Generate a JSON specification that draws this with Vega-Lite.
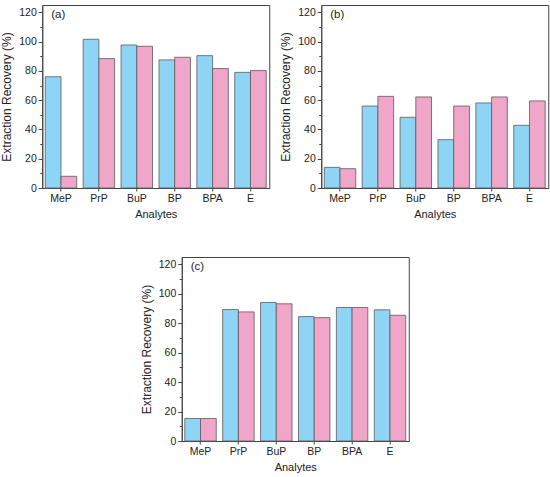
{
  "$schema": "https://vega.github.io/schema/vega-lite/v6.json",
  "description": "Extraction recovery of six analytes, three conditions (a), (b), (c)",
  "padding": {"left": 0, "top": 4, "right": 2, "bottom": 2},
  "data": {
    "values": [
      {"panel": "a", "analyte": "MeP", "series": "1", "value": 76},
      {"panel": "a", "analyte": "MeP", "series": "2", "value": 8},
      {"panel": "a", "analyte": "PrP", "series": "1", "value": 101.6},
      {"panel": "a", "analyte": "PrP", "series": "2", "value": 88.4},
      {"panel": "a", "analyte": "BuP", "series": "1", "value": 97.7},
      {"panel": "a", "analyte": "BuP", "series": "2", "value": 96.8},
      {"panel": "a", "analyte": "BP", "series": "1", "value": 87.5},
      {"panel": "a", "analyte": "BP", "series": "2", "value": 89.3},
      {"panel": "a", "analyte": "BPA", "series": "1", "value": 90.4},
      {"panel": "a", "analyte": "BPA", "series": "2", "value": 81.6},
      {"panel": "a", "analyte": "E", "series": "1", "value": 79},
      {"panel": "a", "analyte": "E", "series": "2", "value": 80.2},
      {"panel": "b", "analyte": "MeP", "series": "1", "value": 14.1},
      {"panel": "b", "analyte": "MeP", "series": "2", "value": 13.2},
      {"panel": "b", "analyte": "PrP", "series": "1", "value": 56},
      {"panel": "b", "analyte": "PrP", "series": "2", "value": 62.6},
      {"panel": "b", "analyte": "BuP", "series": "1", "value": 48.3},
      {"panel": "b", "analyte": "BuP", "series": "2", "value": 62.2},
      {"panel": "b", "analyte": "BP", "series": "1", "value": 33},
      {"panel": "b", "analyte": "BP", "series": "2", "value": 56},
      {"panel": "b", "analyte": "BPA", "series": "1", "value": 58.1},
      {"panel": "b", "analyte": "BPA", "series": "2", "value": 62.2},
      {"panel": "b", "analyte": "E", "series": "1", "value": 42.8},
      {"panel": "b", "analyte": "E", "series": "2", "value": 59.5},
      {"panel": "c", "analyte": "MeP", "series": "1", "value": 15.3},
      {"panel": "c", "analyte": "MeP", "series": "2", "value": 15.3},
      {"panel": "c", "analyte": "PrP", "series": "1", "value": 89.3},
      {"panel": "c", "analyte": "PrP", "series": "2", "value": 87.7},
      {"panel": "c", "analyte": "BuP", "series": "1", "value": 94.1},
      {"panel": "c", "analyte": "BuP", "series": "2", "value": 93.2},
      {"panel": "c", "analyte": "BP", "series": "1", "value": 84.5},
      {"panel": "c", "analyte": "BP", "series": "2", "value": 83.8},
      {"panel": "c", "analyte": "BPA", "series": "1", "value": 90.7},
      {"panel": "c", "analyte": "BPA", "series": "2", "value": 90.7},
      {"panel": "c", "analyte": "E", "series": "1", "value": 89.1},
      {"panel": "c", "analyte": "E", "series": "2", "value": 85.4}
    ]
  },
  "spacing": 36,
  "center": true,
  "vconcat": [
    {
      "spacing": 8,
      "hconcat": [
        {
          "width": 227,
          "height": 183,
          "title": {"text": "(a)", "anchor": "start", "frame": "group", "orient": "top", "offset": -15, "dx": 9},
          "transform": [{"filter": "datum.panel === 'a'"}],
          "encoding": {
            "x": {"field": "analyte", "type": "nominal", "sort": ["MeP", "PrP", "BuP", "BP", "BPA", "E"],
                  "scale": {"paddingInner": 0.17, "paddingOuter": 0.08},
                  "axis": {"title": "Analytes", "labelAngle": 0, "tickSize": 3, "labelPadding": 2, "titlePadding": 5, "titleFontSize": 11}},
            "xOffset": {"field": "series", "type": "nominal"},
            "color": {"field": "series", "type": "nominal", "scale": {"domain": ["1", "2"], "range": ["#8ed4f5", "#f0a6c8"]}, "legend": null}
          },
          "layer": [
            {
              "mark": {"type": "bar", "stroke": "#5a5a5a", "strokeWidth": 0.8},
              "encoding": {
                "y": {"field": "value", "type": "quantitative", "scale": {"domain": [0, 125], "nice": false},
                      "axis": {"title": "Extraction Recovery (%)", "values": [0, 20, 40, 60, 80, 100, 120], "tickSize": 4, "labelPadding": 2, "titlePadding": 5, "titleFontSize": 12}}
              }
            },
            {
              "mark": {"type": "bar", "opacity": 0},
              "encoding": {
                "y": {"field": "value", "type": "quantitative",
                      "axis": {"orient": "left", "title": null, "labels": false, "domain": false, "values": [10, 30, 50, 70, 90, 110], "tickSize": 2.5}}
              }
            }
          ],
          "resolve": {"axis": {"y": "independent"}}
        },
        {
          "width": 227,
          "height": 183,
          "title": {"text": "(b)", "anchor": "start", "frame": "group", "orient": "top", "offset": -15, "dx": 9},
          "transform": [{"filter": "datum.panel === 'b'"}],
          "encoding": {
            "x": {"field": "analyte", "type": "nominal", "sort": ["MeP", "PrP", "BuP", "BP", "BPA", "E"],
                  "scale": {"paddingInner": 0.17, "paddingOuter": 0.08},
                  "axis": {"title": "Analytes", "labelAngle": 0, "tickSize": 3, "labelPadding": 2, "titlePadding": 5, "titleFontSize": 11}},
            "xOffset": {"field": "series", "type": "nominal"},
            "color": {"field": "series", "type": "nominal", "scale": {"domain": ["1", "2"], "range": ["#8ed4f5", "#f0a6c8"]}, "legend": null}
          },
          "layer": [
            {
              "mark": {"type": "bar", "stroke": "#5a5a5a", "strokeWidth": 0.8},
              "encoding": {
                "y": {"field": "value", "type": "quantitative", "scale": {"domain": [0, 125], "nice": false},
                      "axis": {"title": "Extraction Recovery (%)", "values": [0, 20, 40, 60, 80, 100, 120], "tickSize": 4, "labelPadding": 2, "titlePadding": 5, "titleFontSize": 12}}
              }
            },
            {
              "mark": {"type": "bar", "opacity": 0},
              "encoding": {
                "y": {"field": "value", "type": "quantitative",
                      "axis": {"orient": "left", "title": null, "labels": false, "domain": false, "values": [10, 30, 50, 70, 90, 110], "tickSize": 2.5}}
              }
            }
          ],
          "resolve": {"axis": {"y": "independent"}}
        }
      ]
    },
    {
      "width": 227,
      "height": 184,
      "title": {"text": "(c)", "anchor": "start", "frame": "group", "orient": "top", "offset": -15, "dx": 9},
      "transform": [{"filter": "datum.panel === 'c'"}],
      "encoding": {
        "x": {"field": "analyte", "type": "nominal", "sort": ["MeP", "PrP", "BuP", "BP", "BPA", "E"],
              "scale": {"paddingInner": 0.17, "paddingOuter": 0.08},
              "axis": {"title": "Analytes", "labelAngle": 0, "tickSize": 3, "labelPadding": 2, "titlePadding": 5, "titleFontSize": 11}},
        "xOffset": {"field": "series", "type": "nominal"},
        "color": {"field": "series", "type": "nominal", "scale": {"domain": ["1", "2"], "range": ["#8ed4f5", "#f0a6c8"]}, "legend": null}
      },
      "layer": [
        {
          "mark": {"type": "bar", "stroke": "#5a5a5a", "strokeWidth": 0.8},
          "encoding": {
            "y": {"field": "value", "type": "quantitative", "scale": {"domain": [0, 125], "nice": false},
                  "axis": {"title": "Extraction Recovery (%)", "values": [0, 20, 40, 60, 80, 100, 120], "tickSize": 4, "labelPadding": 2, "titlePadding": 5, "titleFontSize": 12}}
          }
        },
        {
          "mark": {"type": "bar", "opacity": 0},
          "encoding": {
            "y": {"field": "value", "type": "quantitative",
                  "axis": {"orient": "left", "title": null, "labels": false, "domain": false, "values": [10, 30, 50, 70, 90, 110], "tickSize": 2.5}}
          }
        }
      ],
      "resolve": {"axis": {"y": "independent"}}
    }
  ],
  "config": {
    "font": "Liberation Sans",
    "view": {"stroke": "#444", "strokeWidth": 1},
    "title": {"fontSize": 11.5, "fontWeight": "normal", "color": "#222", "font": "Liberation Sans"},
    "axis": {
      "grid": false,
      "labelFont": "Liberation Sans",
      "titleFont": "Liberation Sans",
      "labelFontSize": 10.5,
      "labelColor": "#222",
      "titleColor": "#222",
      "titleFontWeight": "normal",
      "domainColor": "#444",
      "tickColor": "#444"
    }
  }
}
